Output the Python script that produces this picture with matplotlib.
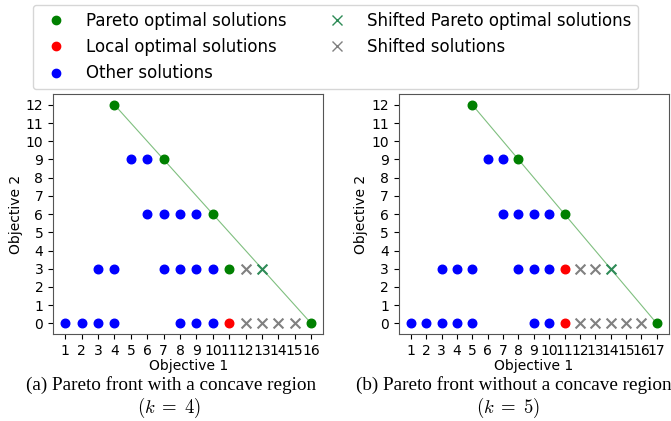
import matplotlib.pyplot as plt
from matplotlib.lines import Line2D

# panel (a): k = 4
a_pareto_x = [4, 7, 10, 11, 16]
a_pareto_y = [12, 9, 6, 3, 0]
a_local_x = [11]
a_local_y = [0]
a_other_x = [1, 2, 3, 4, 8, 9, 10, 3, 4, 7, 8, 9, 10, 6, 7, 8, 9, 5, 6]
a_other_y = [0, 0, 0, 0, 0, 0, 0, 3, 3, 3, 3, 3, 3, 6, 6, 6, 6, 9, 9]
a_spareto_x = [13]
a_spareto_y = [3]
a_shift_x = [12, 12, 13, 14, 15]
a_shift_y = [3, 0, 0, 0, 0]
a_front_x = [4, 16]
a_front_y = [12, 0]

# panel (b): k = 5
b_pareto_x = [5, 8, 11, 17]
b_pareto_y = [12, 9, 6, 0]
b_local_x = [11, 11]
b_local_y = [3, 0]
b_other_x = [1, 2, 3, 4, 5, 9, 10, 3, 4, 5, 8, 9, 10, 7, 8, 9, 10, 6, 7]
b_other_y = [0, 0, 0, 0, 0, 0, 0, 3, 3, 3, 3, 3, 3, 6, 6, 6, 6, 9, 9]
b_spareto_x = [14]
b_spareto_y = [3]
b_shift_x = [12, 13, 12, 13, 14, 15, 16]
b_shift_y = [3, 3, 0, 0, 0, 0, 0]
b_front_x = [5, 17]
b_front_y = [12, 0]

plt.rcParams['mathtext.fontset'] = 'cm'

fig = plt.figure(figsize=(6.71, 4.21), dpi=100)
ax1 = fig.add_axes([0.079, 0.206, 0.403, 0.571])
ax2 = fig.add_axes([0.594, 0.206, 0.403, 0.571])


def draw(ax, front, pareto, local, other, spareto, shift, xmax):
    ax.plot(front[0], front[1], color='green', alpha=0.5, lw=0.8, zorder=1)
    ax.scatter(other[0], other[1], color='blue', s=38, zorder=3)
    ax.scatter(pareto[0], pareto[1], color='green', s=38, zorder=3)
    ax.scatter(local[0], local[1], color='red', s=38, zorder=3)
    ax.scatter(spareto[0], spareto[1], color='seagreen', marker='x', s=50, zorder=3)
    ax.scatter(shift[0], shift[1], color='gray', marker='x', s=50, zorder=3)
    ax.set_xticks(range(1, xmax + 1))
    ax.set_yticks(range(0, 13))
    ax.tick_params(labelsize=10)
    ax.set_xlabel('Objective 1', fontsize=10, labelpad=1)
    ax.set_ylabel('Objective 2', fontsize=10, labelpad=2)
    for s in ax.spines.values():
        s.set_color('#555555')


draw(ax1, (a_front_x, a_front_y), (a_pareto_x, a_pareto_y), (a_local_x, a_local_y),
     (a_other_x, a_other_y), (a_spareto_x, a_spareto_y), (a_shift_x, a_shift_y), 16)
draw(ax2, (b_front_x, b_front_y), (b_pareto_x, b_pareto_y), (b_local_x, b_local_y),
     (b_other_x, b_other_y), (b_spareto_x, b_spareto_y), (b_shift_x, b_shift_y), 17)

handles = [
    Line2D([], [], ls='', marker='o', color='green', ms=6),
    Line2D([], [], ls='', marker='o', color='red', ms=6),
    Line2D([], [], ls='', marker='o', color='blue', ms=6),
    Line2D([], [], ls='', marker='x', color='seagreen', ms=7),
    Line2D([], [], ls='', marker='x', color='gray', ms=7),
]
labels = ['Pareto optimal solutions', 'Local optimal solutions', 'Other solutions',
          'Shifted Pareto optimal solutions', 'Shifted solutions']
fig.legend(handles, labels, ncol=2, loc='upper left', bbox_to_anchor=(0.049, 0.988),
           borderaxespad=0, fontsize=12)

cap = dict(ha='center', va='center', fontsize=13.8, family='Liberation Serif')
fig.text(0.255, 0.085, '(a) Pareto front with a concave region', **cap)
fig.text(0.252, 0.031, r'$(k\;=\;4)$', ha='center', va='center', fontsize=13.5)
fig.text(0.765, 0.085, '(b) Pareto front without a concave region', **cap)
fig.text(0.757, 0.031, r'$(k\;=\;5)$', ha='center', va='center', fontsize=13.5)

fig.savefig('out.png', dpi=100)
